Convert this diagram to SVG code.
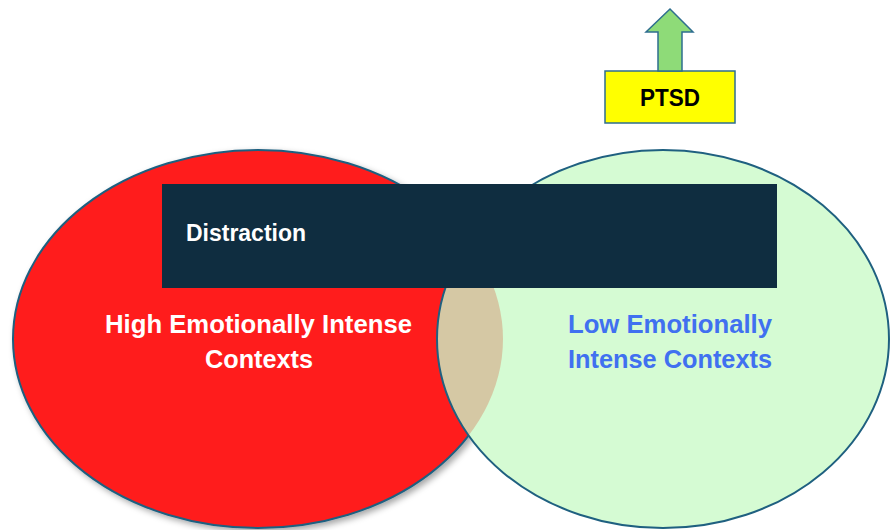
<svg xmlns="http://www.w3.org/2000/svg" width="890" height="530" viewBox="0 0 890 530">
  <defs>
    <style>
      .lbl { font-family: "Liberation Sans", Arial, sans-serif; font-weight: bold; }
      .outline { stroke: #1f6080; stroke-width: 2; }
    </style>
    <clipPath id="greenClip">
      <ellipse cx="663" cy="339" rx="226" ry="189"/>
    </clipPath>
    <filter id="shadow" x="-10%" y="-10%" width="120%" height="120%">
      <feDropShadow dx="3" dy="3" stdDeviation="3" flood-color="#000" flood-opacity="0.35"/>
    </filter>
  </defs>
  <rect width="890" height="530" fill="#ffffff"/>

  <g id="high-context">
    <ellipse cx="258" cy="339" rx="245" ry="189" fill="#ff1c1c" class="outline" filter="url(#shadow)"/>
  </g>

  <g id="low-context">
    <ellipse cx="663" cy="339" rx="226" ry="189" fill="#d5fbd3"/>
    <ellipse cx="258" cy="339" rx="245" ry="189" fill="#d5c8a4" clip-path="url(#greenClip)"/>
    <ellipse cx="663" cy="339" rx="226" ry="189" fill="none" class="outline"/>
  </g>

  <g id="distraction">
    <rect x="162" y="184" width="615" height="104" fill="#0f2d40"/>
    <text x="186" y="241" class="lbl" font-size="23" fill="#ffffff" textLength="120" lengthAdjust="spacingAndGlyphs">Distraction</text>
  </g>

  <g id="high-label">
    <text class="lbl" font-size="25" fill="#ffffff">
      <tspan x="105" y="333" textLength="307" lengthAdjust="spacingAndGlyphs">High Emotionally Intense</tspan>
      <tspan x="205" y="368" textLength="108" lengthAdjust="spacingAndGlyphs">Contexts</tspan>
    </text>
  </g>

  <g id="low-label">
    <text class="lbl" font-size="25" fill="#4070f0">
      <tspan x="568" y="333" textLength="204" lengthAdjust="spacingAndGlyphs">Low Emotionally</tspan>
      <tspan x="568" y="368" textLength="204" lengthAdjust="spacingAndGlyphs">Intense Contexts</tspan>
    </text>
  </g>

  <g id="ptsd">
    <rect x="605" y="71" width="130" height="52" fill="#ffff00" stroke="#2e6e8e" stroke-width="1.5"/>
    <text x="640" y="106" class="lbl" font-size="23" fill="#000000" textLength="60" lengthAdjust="spacingAndGlyphs">PTSD</text>
  </g>

  <g id="connectors">
    <polygon points="658,71 682,71 682,32 693,32 670,9 646,32 658,32" fill="#8edb78" stroke="#2e6e8e" stroke-width="1.5" stroke-linejoin="miter"/>
  </g>
</svg>
